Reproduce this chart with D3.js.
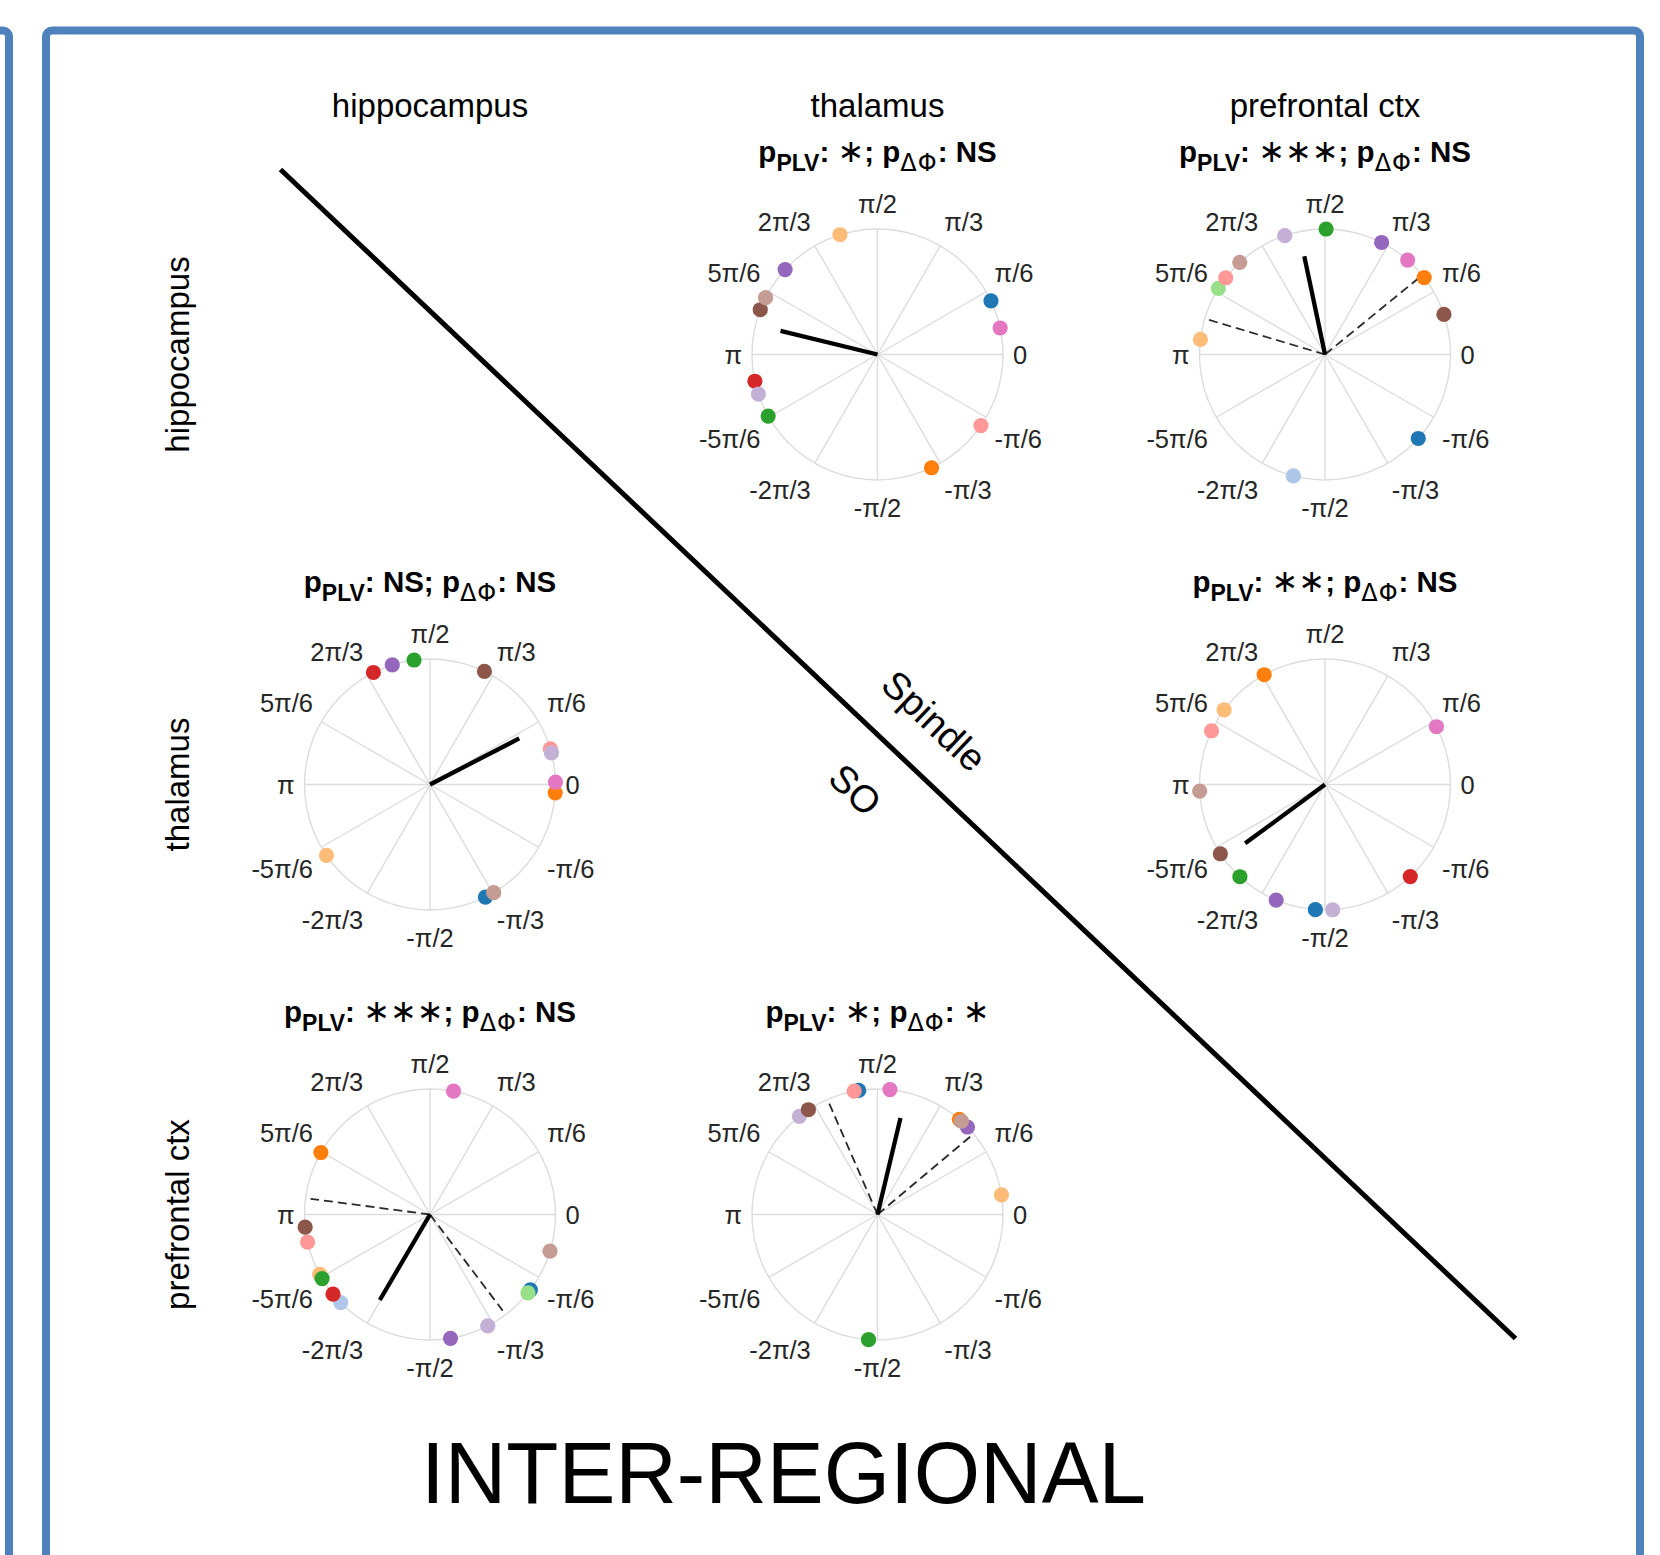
<!DOCTYPE html>
<html><head><meta charset="utf-8">
<script src="https://cdn.jsdelivr.net/npm/d3@7"></script>
<style>html,body{margin:0;padding:0;background:#fff;} svg{display:block;}</style>
</head><body>
<svg id="chart" width="1660" height="1555"></svg>
<script>
// ---------- DATA ----------
const regions = ["hippocampus", "thalamus", "prefrontal ctx"];
const subjects = ["S1","S2","S3","S4","S5","S6","S7","S8","S9","S10","S11","S12","S13"];
const tickAnglesDeg = [0, 30, 60, 90, 120, 150, 180, 210, 240, 270, 300, 330];
const tickLabels = ["0","π/6","π/3","π/2","2π/3","5π/6","π","-5π/6","-2π/3","-π/2","-π/3","-π/6"];

// preferred phase (degrees) of each subject, null = not shown
const phasesHipThal = [25.3, null, -64.5, 107.4, 209.4, null, 192.3, -34.5, 137.4, 198.4, 159.1, 153.1, 12.2];
const phasesHipPfc  = [-42.0, 255.4, 37.8, 173.1, 89.5, 148.2, null, 142.3, 63.2, 108.7, 18.6, 132.8, 48.8];
const phasesThalHip = [-63.8, null, -3.8, 214.4, 97.3, null, 116.8, 16.5, 107.5, 14.6, 64.3, -59.5, 1.1];
const phasesThalPfc = [265.6, null, 119.0, 143.5, 227.3, null, -47.2, 154.7, 247.1, 273.5, 213.5, 183.0, 27.4];
const phasesPfcHip  = [-36.9, 224.6, 150.4, 208.5, 210.7, -38.7, 219.4, 192.7, -80.6, -62.6, 185.8, -17.0, 79.2];
const phasesPfcThal = [98.6, null, 49.3, 9.0, 265.9, null, null, 100.7, 44.2, 128.5, 123.4, 48.0, 84.3];

const panelRow = ["hippocampus", "hippocampus", "thalamus", "thalamus", "prefrontal ctx", "prefrontal ctx"];
const panelCol = ["thalamus", "prefrontal ctx", "hippocampus", "prefrontal ctx", "hippocampus", "thalamus"];
const pPLV   = ["∗", "∗∗∗", "NS", "∗∗", "∗∗∗", "∗"];
const pPhase = ["NS", "NS", "NS", "NS", "NS", "∗"];
const meanAngle  = [166.3, 101.9, 27.3, 216.4, 239.6, 76.6];
const meanLength = [0.795, 0.80, 0.80, 0.79, 0.79, 0.79];
const ciLow    = [null, 39.2, null, null, -52.9, 40.0];
const ciHigh   = [null, 163.4, null, null, 172.5, 113.5];
const ciLength = [null, 1.0, null, null, 0.96, 1.0];
const bandAbove = "Spindle", bandBelow = "SO";
const figureTitle = "INTER-REGIONAL";

// ---------- STYLE ----------
const palette = ["#1f77b4","#aec7e8","#ff7f0e","#ffbb78","#2ca02c","#98df8a","#d62728",
                 "#ff9896","#9467bd","#c5b0d5","#8c564b","#c49c94","#e377c2"];
const frameColor = "#4f81bd";
const sans = "'Liberation Sans', Arial, Helvetica, sans-serif";
const mathFont = "'DejaVu Sans', sans-serif";

const allPhases = [phasesHipThal, phasesHipPfc, phasesThalHip, phasesThalPfc, phasesPfcHip, phasesPfcThal];
const panels = panelRow.map((r, i) => ({
  row: r, col: panelCol[i], phases: allPhases[i], pPLV: pPLV[i], pPhase: pPhase[i],
  mean: meanAngle[i], len: meanLength[i], ciLow: ciLow[i], ciHigh: ciHigh[i], ciLen: ciLength[i]
}));

// ---------- SCALES ----------
const svg = d3.select("#chart");
const xCol = d3.scalePoint().domain(regions).range([430, 1325]);
const yRow = d3.scalePoint().domain(regions).range([354.5, 1214.5]);
const R = 125.5;
const rScale = d3.scaleLinear().domain([0, 1]).range([0, R]);
const aScale = d3.scaleLinear().domain([0, 360]).range([0, 2 * Math.PI]);
const colorScale = d3.scaleOrdinal().domain(subjects).range(palette);
const px = (deg, r) => rScale(r) * Math.cos(aScale(deg));
const py = (deg, r) => -rScale(r) * Math.sin(aScale(deg));

// ---------- FRAMES ----------
svg.append("rect").attr("x", -200).attr("y", 30.5).attr("width", 209).attr("height", 1700)
  .attr("rx", 6).attr("fill", "none").attr("stroke", frameColor).attr("stroke-width", 8);
svg.append("rect").attr("x", 46).attr("y", 30.5).attr("width", 1594).attr("height", 1700)
  .attr("rx", 6).attr("fill", "none").attr("stroke", frameColor).attr("stroke-width", 8);

// ---------- HEADERS ----------
svg.append("g").selectAll("text").data(regions).join("text")
  .attr("x", d => xCol(d)).attr("y", 116.5)
  .attr("text-anchor", "middle").attr("font-family", sans).attr("font-size", 33)
  .attr("fill", "#000").text(d => d);
svg.append("g").selectAll("text").data(regions).join("text")
  .attr("transform", d => `translate(189,${yRow(d)}) rotate(-90)`)
  .attr("text-anchor", "middle").attr("font-family", sans).attr("font-size", 33)
  .attr("fill", "#000").text(d => d);

// ---------- DIAGONAL ----------
svg.append("line").attr("x1", 280.5).attr("y1", 169.5).attr("x2", 1515.5).attr("y2", 1338.5)
  .attr("stroke", "#000").attr("stroke-width", 5);
const diagAngle = Math.atan2(1338.5 - 169.5, 1515.5 - 280.5) * 180 / Math.PI;
svg.append("text").attr("transform", `translate(934,721) rotate(${diagAngle})`)
  .attr("text-anchor", "middle").attr("dominant-baseline", "central")
  .attr("font-family", sans).attr("font-size", 38).text(bandAbove);
svg.append("text").attr("transform", `translate(855,790) rotate(${diagAngle})`)
  .attr("text-anchor", "middle").attr("dominant-baseline", "central")
  .attr("font-family", sans).attr("font-size", 38).text(bandBelow);

// ---------- PANELS ----------
const g = svg.append("g").selectAll("g.panel").data(panels).join("g")
  .attr("class", "panel")
  .attr("transform", d => `translate(${xCol(d.col)},${yRow(d.row)})`);

g.each(function(d) {
  const p = d3.select(this);
  // grid
  p.append("circle").attr("r", R).attr("fill", "none").attr("stroke", "#dcdcdc").attr("stroke-width", 1.4);
  p.selectAll("line.spoke").data(tickAnglesDeg).join("line").attr("class", "spoke")
    .attr("x1", 0).attr("y1", 0).attr("x2", a => px(a, 1)).attr("y2", a => py(a, 1))
    .attr("stroke", "#dcdcdc").attr("stroke-width", 1.4);
  // tick labels
  p.selectAll("text.tick").data(tickAnglesDeg).join("text").attr("class", "tick")
    .attr("x", (a) => {
      const c = Math.cos(aScale(a));
      return px(a, 1) * (R + 12) / R + (c > 0.01 ? -2 : c < -0.01 ? 2 : 0);
    })
    .attr("y", (a) => {
      const s = Math.sin(aScale(a));
      return py(a, 1) * (R + 12) / R + (s > 0.01 ? -4 : s < -0.01 ? 25 : 9);
    })
    .attr("text-anchor", a => { const c = Math.cos(aScale(a)); return c > 0.01 ? "start" : c < -0.01 ? "end" : "middle"; })
    .attr("font-family", sans).attr("font-size", 25.5).attr("fill", "#262626")
    .text((a, i) => tickLabels[i]);
  // CI dashed lines
  if (d.ciLow !== null) {
    p.selectAll("line.ci").data([d.ciLow, d.ciHigh]).join("line").attr("class", "ci")
      .attr("x1", 0).attr("y1", 0).attr("x2", a => px(a, d.ciLen)).attr("y2", a => py(a, d.ciLen))
      .attr("stroke", "#2a2a2a").attr("stroke-width", 1.8).attr("stroke-dasharray", "9,5");
  }
  // mean vector
  p.append("line").attr("x1", 0).attr("y1", 0)
    .attr("x2", px(d.mean, d.len)).attr("y2", py(d.mean, d.len))
    .attr("stroke", "#000").attr("stroke-width", 4.3);
  // subject dots
  const pts = d.phases.map((v, i) => ({ v, s: subjects[i] })).filter(e => e.v !== null);
  p.selectAll("circle.dot").data(pts).join("circle").attr("class", "dot")
    .attr("cx", e => px(e.v, 1)).attr("cy", e => py(e.v, 1)).attr("r", 7.6)
    .attr("fill", e => colorScale(e.s));
  // title
  const t = p.append("text").attr("x", 0).attr("y", -193).attr("text-anchor", "middle")
    .attr("font-family", sans).attr("font-size", 29.5).attr("font-weight", "bold").attr("fill", "#000");
  t.append("tspan").text("p");
  t.append("tspan").attr("dy", 9).attr("font-size", 23).text("PLV");
  t.append("tspan").attr("dy", -9).text(": ");
  if (d.pPLV === "NS") t.append("tspan").text("NS");
  else t.append("tspan").attr("font-family", mathFont).attr("font-weight", "normal").attr("font-size", 32).text(d.pPLV);
  t.append("tspan").text("; p");
  t.append("tspan").attr("dy", 9).attr("font-size", 24).attr("font-weight", "normal")
    .attr("font-family", mathFont).attr("letter-spacing", 1).text("ΔΦ");
  t.append("tspan").attr("dy", -9).text(": ");
  if (d.pPhase === "NS") t.append("tspan").text("NS");
  else t.append("tspan").attr("font-family", mathFont).attr("font-weight", "normal").attr("font-size", 32).text(d.pPhase);
});

// ---------- FIGURE TITLE ----------
svg.append("text").attr("x", 783.5).attr("y", 1503).attr("text-anchor", "middle")
  .attr("font-family", sans).attr("font-size", 87).attr("textLength", 725)
  .attr("lengthAdjust", "spacingAndGlyphs").attr("fill", "#000").text(figureTitle);
</script>
</body></html>
